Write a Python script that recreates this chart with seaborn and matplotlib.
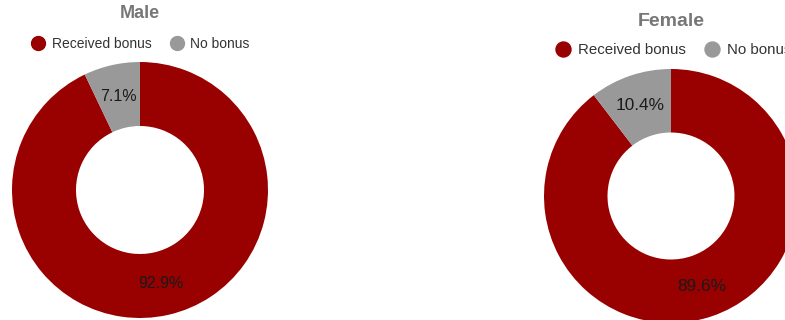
import matplotlib
matplotlib.use("Agg")
import matplotlib.pyplot as plt
from matplotlib.lines import Line2D
import seaborn as sns

sns.set_style("white")
plt.rcParams['font.family'] = ['Liberation Sans', 'DejaVu Sans']

groups = ["Male", "Female"]
categories = ["Received bonus", "No bonus"]
male_values = [92.9, 7.1]
female_values = [89.6, 10.4]
colors = ["#990000", "#999999"]

W, H = 785, 320
fig = plt.figure(figsize=(W / 100, H / 100), dpi=100)

def px_axes(cx, cy, r):
    return fig.add_axes([(cx - r) / W, (H - cy - r) / H, 2 * r / W, 2 * r / H])

specs = [
    # values, cx, cy, r, title y, legend y, legend x, scale
    (male_values, 140, 190, 128, 13, 44, 31, 1.0),
    (female_values, 671, 196, 127, 22, 50, 555, 1.08),
]

for (vals, cx, cy, r, ty, ly, lx, s), name in zip(specs, groups):
    ax = px_axes(cx, cy, r)
    ax.pie(vals, colors=colors, startangle=90, counterclock=False,
           radius=1.0, wedgeprops=dict(width=0.5, edgecolor="none"),
           autopct="%.1f%%", pctdistance=0.75,
           textprops=dict(fontsize=11.5 * s, color="#1a1a1a"))
    ax.set_xlim(-1, 1)
    ax.set_ylim(-1, 1)
    ax.set_aspect("equal")
    ax.axis("off")
    fig.text(cx / W, 1 - ty / H, name, ha="center", va="center",
             fontsize=13 * s, fontweight="bold", color="#777777")
    handles = [Line2D([0], [0], marker="o", linestyle="none", markersize=10 * s,
                      markerfacecolor=c, markeredgecolor=c) for c in colors]
    fig.legend(handles, categories, loc="center left",
               bbox_to_anchor=(lx / W, 1 - ly / H), ncol=2, frameon=False,
               fontsize=10 * s, borderpad=0, borderaxespad=0, handlelength=1.0,
               handletextpad=0.5, columnspacing=1.3, labelcolor="#333333")

fig.savefig("out.png", dpi=100)
